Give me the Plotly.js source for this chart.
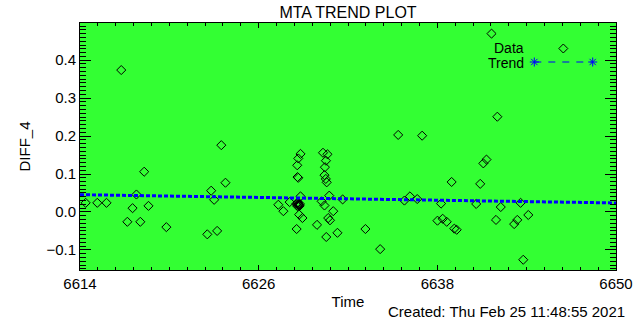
<!DOCTYPE html>
<html>
<head>
<meta charset="utf-8">
<script src="https://cdn.plot.ly/plotly-3.0.1.min.js"></script>
<style>html,body{margin:0;padding:0;background:#fff;}#chart{width:640px;height:320px;}</style>
</head>
<body>
<div id="chart"></div>
<script>
// Data points (Time, DIFF_4)
const time = [6614.38, 6615.16, 6615.78, 6616.77, 6617.18, 6617.53, 6617.79, 6618.05, 6618.31, 6618.60,
  6619.80, 6622.55, 6622.81, 6623.01, 6623.21, 6623.49, 6623.77, 6627.32, 6627.66, 6628.08,
  6628.81, 6628.66, 6628.59, 6628.66, 6628.61, 6628.81, 6628.54, 6628.71, 6628.61, 6628.77,
  6628.64, 6628.66, 6628.72, 6628.94, 6628.55, 6629.92, 6630.32, 6630.62, 6630.52, 6630.45,
  6630.42, 6630.51, 6630.57, 6630.74, 6630.23, 6630.42, 6631.01, 6631.64, 6630.67, 6630.79,
  6631.29, 6630.54, 6633.17, 6634.16, 6635.37, 6636.98, 6635.79, 6636.16, 6636.65, 6638.25,
  6638.01, 6638.36, 6638.63, 6638.96, 6639.14, 6639.30, 6640.61, 6640.88, 6641.09, 6641.30,
  6641.64, 6642.03, 6641.94, 6642.26, 6643.16, 6643.37, 6643.59, 6644.11, 6643.77,
  6628.58, 6628.69, 6628.63, 6628.75];
const diff4 = [0.024, 0.024, 0.024, 0.374, -0.026, 0.010, 0.046, -0.026, 0.106, 0.016,
  -0.040, -0.059, 0.056, 0.032, -0.050, 0.176, 0.077, 0.019, 0.002, 0.026,
  0.153, 0.141, 0.123, 0.090, 0.092, 0.041, 0.022, 0.017, 0.015, 0.021,
  0.025, 0.019, -0.007, -0.016, -0.045, -0.034, 0.156, 0.152, 0.135, 0.118,
  0.097, 0.087, 0.078, 0.043, 0.028, 0.017, 0.002, 0.033, -0.016, -0.022,
  -0.055, -0.066, -0.045, -0.098, 0.203, 0.201, 0.030, 0.041, 0.034, 0.022,
  -0.023, -0.018, -0.026, 0.079, -0.044, -0.047, 0.021, 0.074, 0.128, 0.138,
  0.470, 0.251, -0.021, 0.013, -0.032, -0.021, 0.024, -0.008, -0.126,
  0.018, 0.020, 0.023, 0.016];

// Trend line end points
const trendX = [6614, 6650];
const trendY = [0.0455, 0.0237];

// Axis ticks
const xTicks = [6614, 6626, 6638, 6650];
const yTicks = [-0.1, 0.0, 0.1, 0.2, 0.3, 0.4];

const FONT = 'Liberation Sans, Arial, sans-serif';
const L = 80, R = 616, T = 23, B = 270;
function px(x) { return (x - L) / (R - L); }
function py(y) { return (B - y) / (B - T); }

// Legend glyphs (paper coords)
function star(cx, cy, r) {
  const s = [];
  const segs = [[r,0],[0,r],[r*0.7,r*0.7],[r*0.7,-r*0.7]];
  segs.forEach(([dx,dy]) => {
    s.push({type:'line', xref:'paper', yref:'paper', x0:px(cx-dx), y0:py(cy-dy), x1:px(cx+dx), y1:py(cy+dy),
      line:{color:'#0000ff', width:1}});
  });
  return s;
}
const dcx = 563.3, dcy = 48.5, dr = 4.5;
const shapes = [];
[[0,-dr,dr,0],[dr,0,0,dr],[0,dr,-dr,0],[-dr,0,0,-dr]].forEach(([a,b,c,d]) => {
  shapes.push({type:'line', xref:'paper', yref:'paper', x0:px(dcx+a), y0:py(dcy+b), x1:px(dcx+c), y1:py(dcy+d),
    line:{color:'black', width:1}});
});
shapes.push({type:'line', xref:'paper', yref:'paper', x0:px(534.3), y0:py(62), x1:px(592.7), y1:py(62),
  line:{color:'#0000ff', width:1, dash:'7px,7px'}});
star(534.3, 62, 4.5).forEach(s => shapes.push(s));
star(592.7, 62, 4.5).forEach(s => shapes.push(s));

const traces = [
  {x: time, y: diff4, type:'scatter', mode:'markers',
   marker:{symbol:'diamond-open', size:7, color:'black', line:{width:1, color:'black'}},
   hoverinfo:'skip', showlegend:false},
  {x: trendX, y: trendY, type:'scatter', mode:'lines',
   line:{color:'#0000ff', width:3, dash:'4px,2px'}, hoverinfo:'skip', showlegend:false}
];

const layout = {
  width:640, height:320,
  margin:{l:L, r:640-R, t:T, b:320-B, pad:0},
  paper_bgcolor:'#ffffff', plot_bgcolor:'#33ff33',
  font:{family:FONT, size:15, color:'black'},
  title:{text:'MTA TREND PLOT', x:(L+R)/2/640, xanchor:'center', y:1-12/320, yanchor:'middle',
    font:{family:FONT, size:16, color:'black'}},
  showlegend:false,
  xaxis:{range:[6614, 6650], tickvals:xTicks, ticktext:xTicks.map(String),
    ticks:'inside', ticklen:5, tickcolor:'black', tickwidth:1, mirror:'allticks',
    showline:true, linecolor:'black', linewidth:1, showgrid:false, zeroline:false,
    minor:{dtick:1.2, tick0:6614, ticks:'inside', ticklen:3, tickcolor:'black', showgrid:false},
    tickfont:{family:FONT, size:15, color:'black'},
    title:{text:'Time', standoff:5, font:{family:FONT, size:15, color:'black'}}},
  yaxis:{range:[-0.153, 0.498], tickvals:yTicks, tickformat:'.1f',
    ticks:'inside', ticklen:11, tickcolor:'black', tickwidth:1, mirror:'allticks',
    showline:true, linecolor:'black', linewidth:1, showgrid:false, zeroline:false,
    minor:{dtick:0.01, tick0:0, ticks:'inside', ticklen:6, tickcolor:'black', showgrid:false},
    tickfont:{family:FONT, size:15, color:'black'},
    title:{text:'DIFF_4', standoff:12, font:{family:FONT, size:15, color:'black'}}},
  shapes: shapes,
  annotations:[
    {text:'Data', xref:'paper', yref:'paper', x:px(525), y:py(48), xanchor:'right', yanchor:'middle',
     showarrow:false, height:13, borderpad:0, font:{family:FONT, size:14, color:'black'}},
    {text:'Trend', xref:'paper', yref:'paper', x:px(525), y:py(62), xanchor:'right', yanchor:'middle',
     showarrow:false, height:13, borderpad:0, font:{family:FONT, size:14, color:'black'}},
    {text:'Created: Thu Feb 25 11:48:55 2021', xref:'paper', yref:'paper', x:px(627), y:py(311),
     xanchor:'right', yanchor:'middle', showarrow:false, font:{family:FONT, size:15, color:'black'}}
  ]
};

Plotly.newPlot('chart', traces, layout, {staticPlot:true, displayModeBar:false});
</script>
</body>
</html>
